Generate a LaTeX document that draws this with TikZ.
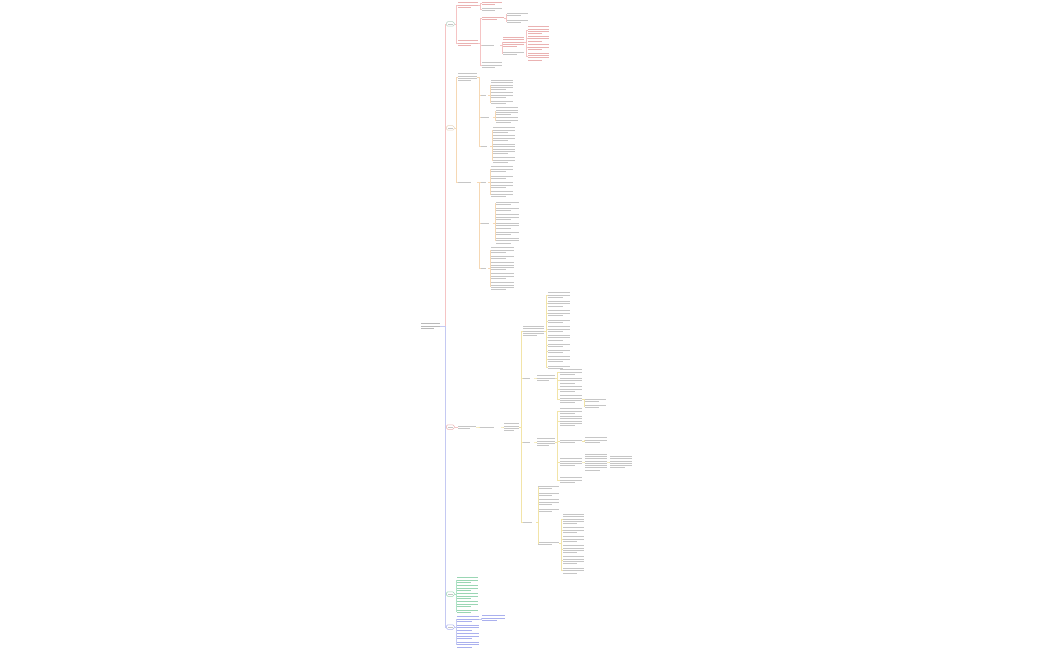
\documentclass[tikz,border=0pt]{standalone}
\usepackage{tikz}
\definecolor{mmpink}{HTML}{F5C4C4}
\definecolor{mmblue}{HTML}{C4C9F2}
\definecolor{mmorange}{HTML}{F6D8B4}
\definecolor{mmyellow}{HTML}{F2E4A8}
\definecolor{mmgreen}{HTML}{AEE3C6}
\definecolor{mmred}{HTML}{EAB2B2}
\definecolor{mmtgreen}{HTML}{9AD6B4}
\definecolor{mmtblue}{HTML}{AAB0EE}
\definecolor{mmtext}{HTML}{C6C6C6}

\begin{document}
\begin{tikzpicture}[x=1pt,y=-1pt,
  tcol/.store in=\tcol, tcol=mmtext,
  txt/.style n args={2}{inner sep=0pt,anchor=west,minimum width=#1pt,minimum height=#2*2.3pt,
    path picture={\foreach \k in {1,...,#2}{\pgfmathsetmacro\len{(\k==#2)?0.65:1}
      \draw[line width=0.55pt,\tcol]
      ([yshift={-(\k-0.5)*2.3pt}]path picture bounding box.north west) -- ++({\len*#1},0);}}},
  lvl/.style={draw=#1,line width=0.5pt,rounded corners=1.5pt,inner sep=0pt,anchor=west,
    minimum width=8pt,minimum height=4.5pt,
    path picture={\draw[line width=0.55pt,mmtext] ([xshift=1.5pt]path picture bounding box.west) --
      ([xshift=-1.5pt]path picture bounding box.east);}},
  lk/.style={draw=#1,line width=0.6pt}]
\useasboundingbox (0,0) rectangle (1050,650);

% root and main branches
\node[txt={19}{3},tcol=gray!55] (R) at (421,326) {};
\node[lvl=mmgreen!80!black!60] (B1) at (446,24) {};
\node[lvl=mmorange!90!black!70] (B2) at (446,128) {};
\node[lvl=mmred] (B3) at (446,427) {};
\node[lvl=mmtgreen] (B4) at (446,594) {};
\node[lvl=mmtblue] (B5) at (446,627) {};
\foreach \c in {B1,B2} \draw[lk=mmpink] (R.east) -- ++(5,0) |- (\c.west);
\foreach \c in {B3,B4,B5} \draw[lk=mmblue] (R.east) -- ++(5,0) |- (\c.west);

% branch 1
\node[txt={20}{3},tcol=mmred] (a1) at (458,5) {};
\node[txt={20}{3},tcol=mmred] (a2) at (458,43) {};
\node[txt={20}{2},tcol=mmred] (a11) at (482,3) {};
\node[txt={20}{2}] (a12) at (482,9) {};
\node[txt={22}{2},tcol=mmred] (a21) at (482,18) {};
\node[txt={18}{1}] (a22) at (482,45) {};
\node[txt={20}{3}] (a23) at (482,65) {};
\node[txt={21}{2}] (a211) at (507,14) {};
\node[txt={21}{2}] (a212) at (507,21) {};
\node[txt={21}{5},tcol=mmred] (a221) at (503,42) {};
\node[txt={21}{2}] (a222) at (503,53) {};
\node[txt={21}{4},tcol=mmred] (a2211) at (528,30) {};
\node[txt={21}{3},tcol=mmred] (a2212) at (528,38.5) {};
\node[txt={21}{3},tcol=mmred] (a2213) at (528,47) {};
\node[txt={21}{4},tcol=mmred] (a2214) at (528,56.5) {};
\foreach \p/\c in {B1/a1,B1/a2}
  \draw[lk=mmpink] (\p.east) -- ++(2,0) |- (\c.west);
\foreach \p/\c in {a1/a11,a1/a12,a2/a21,a2/a22,a2/a23,a21/a211,a21/a212,a22/a221,a22/a222,
  a221/a2211,a221/a2212,a221/a2213,a221/a2214}
  \draw[lk=mmpink] (\p.east) -- ++(1.5,0) |- (\c.west);

% branch 2
\node[txt={19}{4}] (b1) at (458,77) {};
\node[txt={19}{1}] (b2) at (458,182) {};
\node[txt={7}{1}] (L1) at (481,95) {};
\node[txt={12}{1}] (L2) at (481,117) {};
\node[txt={9}{1}] (L3) at (481,146) {};
\node[txt={7}{1}] (L4) at (481,182) {};
\node[txt={12}{1}] (L5) at (481,223) {};
\node[txt={7}{1}] (L6) at (481,268) {};
\foreach \y/\n [count=\i] in {85/5,95/3,102/2}
  \node[txt={22}{\n}] (L1k\i) at (491,\y) {};
\foreach \y/\n [count=\i] in {111/4,120/3}
  \node[txt={22}{\n}] (L2k\i) at (496,\y) {};
\foreach \y/\n [count=\i] in {130/3,138/3,149/5,160/3}
  \node[txt={22}{\n}] (L3k\i) at (493,\y) {};
\foreach \y/\n [count=\i] in {169/3,177/2,185/3,194/3}
  \node[txt={22}{\n}] (L4k\i) at (491,\y) {};
\foreach \y/\n [count=\i] in {203/2,209.5/2,217/3,225.5/3,233/2,240.5/3}
  \node[txt={23}{\n}] (L5k\i) at (496,\y) {};
\foreach \y/\n [count=\i] in {250/3,257.5/2,266/4,276/3,286/4}
  \node[txt={23}{\n}] (L6k\i) at (491,\y) {};
\foreach \p/\c in {B2/b1,B2/b2,b1/L1,b1/L2,b1/L3,b2/L4,b2/L5,b2/L6,
  L1/L1k1,L1/L1k2,L1/L1k3,L2/L2k1,L2/L2k2,L3/L3k1,L3/L3k2,L3/L3k3,L3/L3k4,
  L4/L4k1,L4/L4k2,L4/L4k3,L4/L4k4,L5/L5k1,L5/L5k2,L5/L5k3,L5/L5k4,L5/L5k5,L5/L5k6,
  L6/L6k1,L6/L6k2,L6/L6k3,L6/L6k4,L6/L6k5}
  \draw[lk=mmorange] (\p.east) -- ++(1.5,0) |- (\c.west);

% branch 3
\node[txt={18}{2}] (c1) at (458,427) {};
\node[txt={21}{1}] (c2) at (480,427) {};
\node[txt={15}{4}] (c3) at (504,427) {};
\node[txt={21}{5}] (D1) at (523,331) {};
\node[txt={11}{1}] (D2) at (523,378) {};
\node[txt={11}{1}] (D3) at (523,442) {};
\node[txt={13}{1}] (D4) at (523,522) {};
\foreach \y/\n [count=\i] in {295/3,303.5/3,313/3,321/2,329/3,337.5/3,345/2,351.5/2,359/3,367/2}
  \node[txt={22}{\n}] (D1k\i) at (548,\y) {};
\node[txt={18}{3}] (E1) at (537,378) {};
\foreach \y/\n [count=\i] in {372/3,380.5/3,389/3,399/4}
  \node[txt={22}{\n}] (E1k\i) at (560,\y) {};
\node[txt={21}{2}] (F1) at (585,400) {};
\node[txt={21}{2}] (F2) at (585,406.5) {};
\node[txt={18}{4}] (E2) at (537,442) {};
\foreach \y/\n [count=\i] in {411/3,421/5,441/2,462/4,480/3}
  \node[txt={22}{\n}] (G\i) at (560,\y) {};
\node[txt={22}{3}] (H1) at (585,440) {};
\node[txt={22}{8}] (H2) at (585,462) {};
\node[txt={22}{6}] (H3) at (610,462) {};
\foreach \y/\n [count=\i] in {487/2,494/2,502/3,510/2,543/2}
  \node[txt={21}{\n}] (M\i) at (538,\y) {};
\foreach \y/\n [count=\i] in {519/5,530/3,539/3,549/4,560/4,570.5/3}
  \node[txt={21}{\n}] (N\i) at (563,\y) {};
\draw[lk=mmpink] (B3.east) -- (c1.west);
\foreach \p/\c in {c1/c2,c2/c3,c3/D1,c3/D2,c3/D3,c3/D4,D2/E1,D3/E2,
  E1/E1k1,E1/E1k2,E1/E1k3,E1/E1k4,E1k4/F1,E1k4/F2,
  E2/G1,E2/G2,E2/G3,E2/G4,E2/G5,G3/H1,G4/H2,H2/H3,
  D4/M1,D4/M2,D4/M3,D4/M4,D4/M5,M5/N1,M5/N2,M5/N3,M5/N4,M5/N5,M5/N6}
  \draw[lk=mmyellow] (\p.east) -- ++(1.5,0) |- (\c.west);
\foreach \i in {1,...,10}
  \draw[lk=mmyellow] (D1.east) -- ++(1.5,0) |- (D1k\i.west);

% branch 4
\foreach \y/\n [count=\i] in {580/3,588/3,596/3,604/3,611/2}
  \node[txt={21}{\n},tcol=mmtgreen] (P\i) at (457,\y) {};
\foreach \i in {1,...,5}
  \draw[lk=mmgreen] (B4.east) -- ++(1.5,0) |- (P\i.west);

% branch 5
\foreach \y/\n [count=\i] in {619/3,627.5/3,636/3,644.5/3}
  \node[txt={22}{\n},tcol=mmtblue] (Q\i) at (457,\y) {};
\node[txt={23}{3},tcol=mmtblue] (Q1k) at (482,618) {};
\foreach \i in {1,...,4}
  \draw[lk=mmblue] (B5.east) -- ++(1.5,0) |- (Q\i.west);
\draw[lk=mmblue] (Q1.east) -- ++(1.5,0) |- (Q1k.west);
\end{tikzpicture}
\end{document}
